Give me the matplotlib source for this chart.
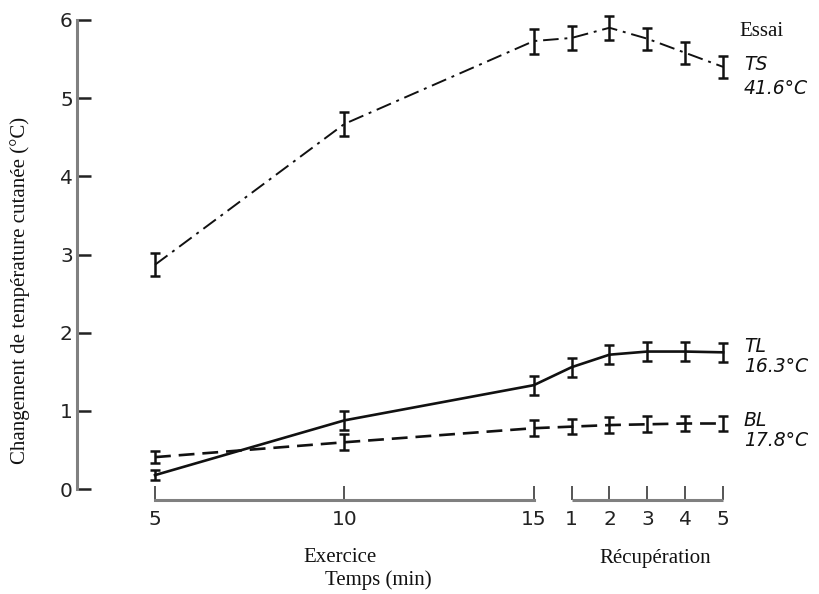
import matplotlib
matplotlib.use("Agg")
import matplotlib.pyplot as plt
import numpy as np

# time axis: exercise minutes 5..15, then recovery minutes 1..5 placed after 15
x_ex = [5, 10, 15]
x_rec = [16, 17, 18, 19, 20]
x_all = x_ex + x_rec
tick_labels = ["5", "10", "15", "1", "2", "3", "4", "5"]

# skin temperature change (deg C) and error bars
ts = [2.87, 4.67, 5.73, 5.77, 5.90, 5.76, 5.58, 5.40]
ts_err = [0.15, 0.15, 0.16, 0.15, 0.15, 0.14, 0.14, 0.14]
tl = [0.18, 0.88, 1.33, 1.56, 1.72, 1.76, 1.76, 1.75]
tl_err = [0.06, 0.12, 0.12, 0.12, 0.12, 0.12, 0.12, 0.12]
bl = [0.41, 0.60, 0.78, 0.80, 0.82, 0.83, 0.84, 0.84]
bl_err = [0.08, 0.10, 0.10, 0.10, 0.10, 0.10, 0.10, 0.10]

axis_grey = "#808080"
ink = "#111111"

fig = plt.figure(figsize=(8.19, 5.94), dpi=100)
ax = fig.add_axes([0.094, 0.158, 0.812, 0.815])

# the three curves
ax.errorbar(x_all, ts, yerr=ts_err, color=ink, lw=1.4, dashes=(8, 3, 1.5, 3),
            capsize=3.5, elinewidth=1.8, capthick=1.8, clip_on=False)
ax.errorbar(x_all, tl, yerr=tl_err, color=ink, lw=1.9, ls="-",
            capsize=3.5, elinewidth=1.8, capthick=1.8, clip_on=False)
ax.errorbar(x_all, bl, yerr=bl_err, color=ink, lw=1.9, dashes=(6, 3),
            capsize=3.5, elinewidth=1.8, capthick=1.8, clip_on=False)

ax.set_xlim(2.94, 20.5)
ax.set_ylim(-0.14, 6.05)

# axes: split time axis, y axis from 0 to 6
for side in ["top", "right"]:
    ax.spines[side].set_visible(False)
ax.spines["left"].set_bounds(0, 6)
ax.spines["bottom"].set_bounds(5, 15)
for side in ["left", "bottom"]:
    ax.spines[side].set_color(axis_grey)
    ax.spines[side].set_linewidth(2.2)
ax.plot([16, 20], [0, 0], color=axis_grey, lw=2.2, transform=ax.get_xaxis_transform(),
        clip_on=False, solid_capstyle="butt")

ax.set_yticks(range(0, 7))
ax.set_xticks(x_all)
ax.set_xticklabels(tick_labels)
ax.tick_params(axis="y", direction="in", length=10, width=1.8, color="#222222",
               pad=3, labelsize=14.5, labelcolor="#222222")
ax.tick_params(axis="x", direction="in", length=10, width=1.4, color="#555555",
               pad=7, labelsize=14.5, labelcolor="#222222")

# series labels at the right
lab = dict(fontsize=13.5, style="italic", color=ink, transform=fig.transFigure,
           ha="left", va="center")
fig.text(744 / 819, 1 - 65 / 594, "TS", **lab)
fig.text(744 / 819, 1 - 88 / 594, "41.6°C", **lab)
fig.text(744 / 819, 1 - 346 / 594, "TL", **lab)
fig.text(744 / 819, 1 - 367 / 594, "16.3°C", **lab)
fig.text(744 / 819, 1 - 421 / 594, "BL", **lab)
fig.text(744 / 819, 1 - 441 / 594, "17.8°C", **lab)

serif = dict(family="Liberation Serif", fontsize=15, color=ink, ha="center", va="center")
fig.text(761 / 819, 1 - 31 / 594, "Essai", **serif)
fig.text(340 / 819, 1 - 558 / 594, "Exercice", **serif)
fig.text(655 / 819, 1 - 558 / 594, "Récupération", **serif)
fig.text(378 / 819, 1 - 580 / 594, "Temps (min)", **serif)
fig.text(20 / 819, 1 - 290 / 594, "Changement de température cutanée (°C)",
         rotation=90, **serif)

fig.savefig("out.png", dpi=100)
